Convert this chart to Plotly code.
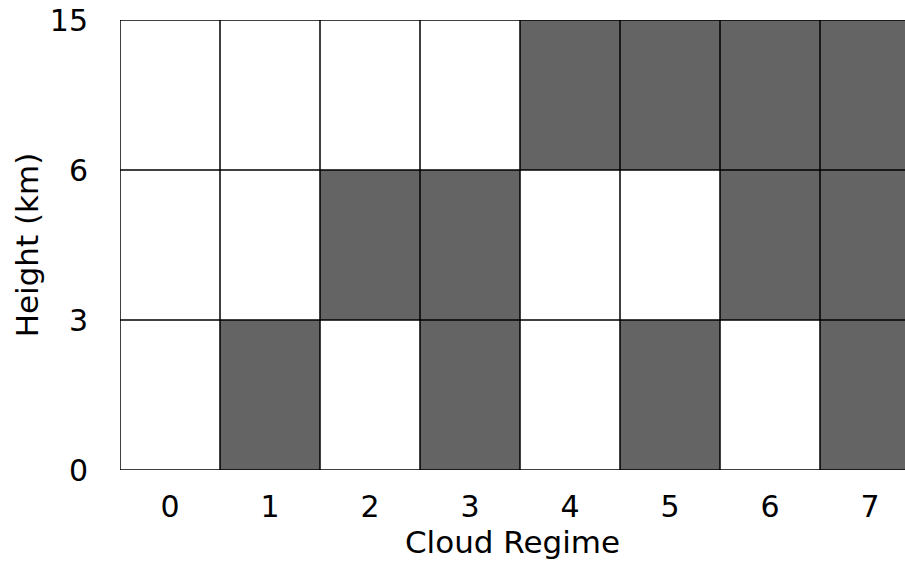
import plotly.graph_objects as go

regimes = [0, 1, 2, 3, 4, 5, 6, 7]
height_labels = ["0", "3", "6", "15"]
# cloud presence per layer (1 = cloudy) for each regime
low_layer = [0, 1, 0, 1, 0, 1, 0, 1]    # 0-3 km
mid_layer = [0, 0, 1, 1, 0, 0, 1, 1]    # 3-6 km
high_layer = [0, 0, 0, 0, 1, 1, 1, 1]   # 6-15 km

layers = [low_layer, mid_layer, high_layer]
layer_pos = [i + 0.5 for i in range(len(layers))]

fig = go.Figure()
fig.add_trace(go.Heatmap(
    x=regimes, y=layer_pos, z=layers,
    colorscale=[[0, "white"], [1, "#646464"]],
    zmin=0, zmax=1, showscale=False, hoverinfo="skip",
))

shapes = []
for r in regimes:
    shapes.append(dict(type="line", xref="x", yref="y", x0=r - 0.5, x1=r - 0.5,
                       y0=0, y1=len(layers), line=dict(color="black", width=1.5)))
shapes.append(dict(type="line", xref="x", yref="y", x0=regimes[-1] + 0.5, x1=regimes[-1] + 0.5,
                   y0=0, y1=len(layers), line=dict(color="black", width=1.5)))
for k in range(len(layers) + 1):
    shapes.append(dict(type="line", xref="x", yref="y", x0=regimes[0] - 0.5, x1=regimes[-1] + 0.5,
                       y0=k, y1=k, line=dict(color="black", width=1.5)))

font = "DejaVu Sans, sans-serif"
fig.update_layout(
    width=905, height=562,
    margin=dict(l=120, r=0, t=20, b=92),
    paper_bgcolor="white", plot_bgcolor="white",
    shapes=shapes,
    font=dict(family=font, size=30, color="black"),
    xaxis=dict(
        range=[-0.5, 7.35], tickvals=regimes, ticktext=[str(r) for r in regimes],
        ticks="", showgrid=False, zeroline=False, showline=False,
        ticklabelstandoff=16, automargin=False,
        title=dict(text="Cloud Regime", standoff=6, font=dict(size=31)),
    ),
    yaxis=dict(
        range=[0, len(layers)], tickvals=list(range(len(height_labels))), ticktext=height_labels,
        ticks="", showgrid=False, zeroline=False, showline=False,
        ticklabelstandoff=31, automargin=False,
        title=dict(text="Height (km)", standoff=1, font=dict(size=31)),
    ),
)

fig.write_html("out.html", config={"displayModeBar": False},
               post_script="document.body.style.margin='0';document.body.style.overflow='hidden';")
